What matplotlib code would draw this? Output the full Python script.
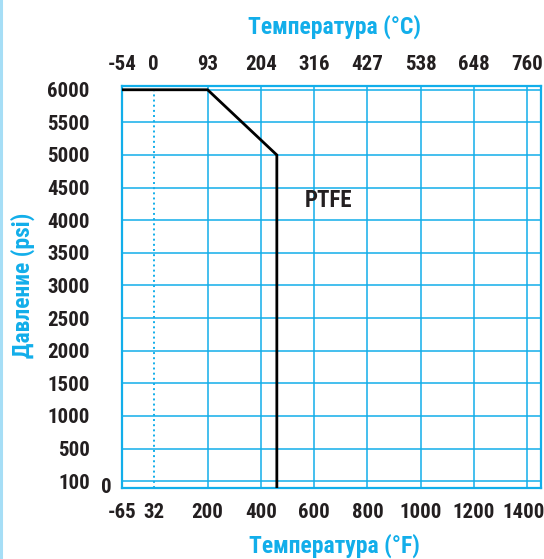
import numpy as np
import matplotlib
matplotlib.use("Agg")
import matplotlib.pyplot as plt
from matplotlib.lines import Line2D
from matplotlib.transforms import blended_transform_factory, ScaledTranslation

plt.rcParams['font.family'] = ['Roboto Condensed', 'DejaVu Sans']
plt.rcParams['font.weight'] = 'bold'

# data
temp_f = [-65, 200, 460, 460]
pressure = [6000, 6000, 5000, 0]

f_ticks = [-65, 32, 200, 400, 600, 800, 1000, 1200, 1400]
c_labels = ["-54", "0", "93", "204", "316", "427", "538", "648", "760"]
p_ticks = [100, 500, 1000, 1500, 2000, 2500, 3000, 3500, 4000, 4500, 5000, 5500, 6000]

blue = '#12AEEA'
dark = '#231F20'

# piecewise scales (the chart is not linear near the low end)
xb = [-65, 32, 200, 1400, 1600]
xp = [0, 0.6, 1.613, 7.613, 8.613]
yb = [0, 100, 500, 6000, 6500]
yp = [-0.2, 0, 1, 12, 13]

def fx(v): return np.interp(v, xb, xp)
def fx_inv(v): return np.interp(v, xp, xb)
def fy(v): return np.interp(v, yb, yp)
def fy_inv(v): return np.interp(v, yp, yb)

fig = plt.figure(figsize=(5.44, 5.59), dpi=100)
ax = fig.add_axes([0.2237, 0.1276, 0.7708, 0.7194])
ax.set_xscale('function', functions=(fx, fx_inv))
ax.set_yscale('function', functions=(fy, fy_inv))
ax.set_xlim(-65, 1452)
ax.set_ylim(0, 6065)

# grid
for f in f_ticks[1:]:
    ls = ':' if f == 32 else '-'
    ax.axvline(f, color=blue, lw=1.1 if f != 32 else 1.4, ls=ls, zorder=1)
for p in p_ticks:
    ax.axhline(p, color=blue, lw=1.1, zorder=1)

ax.plot(temp_f, pressure, color='black', lw=2, zorder=3, solid_joinstyle='miter')
ax.text(566, 4300, "PTFE", fontsize=16.5, fontweight='bold', color=dark,
        ha='left', va='center')

for s in ax.spines.values():
    s.set_color(blue)
    s.set_linewidth(1.6)

ax.set_xticks(f_ticks, [str(f) for f in f_ticks])
ax.set_yticks(p_ticks, [str(p) for p in p_ticks])
ax.tick_params(axis='x', length=0, pad=11, labelsize=15, labelcolor=dark)
ax.tick_params(axis='y', length=0, pad=23, labelsize=15, labelcolor=dark)
for lab in ax.get_xticklabels() + ax.get_yticklabels():
    lab.set_fontweight('bold')
last = ax.get_xticklabels()[-1]
last.set_transform(last.get_transform() + ScaledTranslation(-4 / 100, 0, fig.dpi_scale_trans))

trans = blended_transform_factory(ax.transAxes, ax.transData)
ax.text(-0.025, 0, "0", transform=trans, fontsize=15, fontweight='bold',
        color=dark, ha='right', va='center')

ax2 = ax.twiny()
ax2.set_xscale('function', functions=(fx, fx_inv))
ax2.set_xlim(ax.get_xlim())
ax2.set_xticks(f_ticks, c_labels)
ax2.tick_params(axis='x', length=0, pad=8, labelsize=15, labelcolor=dark)
for lab in ax2.get_xticklabels():
    lab.set_fontweight('bold')
for s in ax2.spines.values():
    s.set_visible(False)

fig.text(0.614, 0.939, "Температура (°C)", fontsize=17, fontweight='bold',
         color=blue, ha='center', va='baseline')
fig.text(0.614, 0.011, "Температура (°F)", fontsize=17, fontweight='bold',
         color=blue, ha='center', va='baseline')
fig.text(0.042, 0.49, "Давление (psi)", fontsize=17, fontweight='bold',
         color=blue, ha='center', va='center', rotation=90)

fig.add_artist(Line2D([0.0025, 0.0025], [0, 1], transform=fig.transFigure,
                      color='#A6DEF6', lw=2.2))

fig.savefig("out.png", dpi=100)
